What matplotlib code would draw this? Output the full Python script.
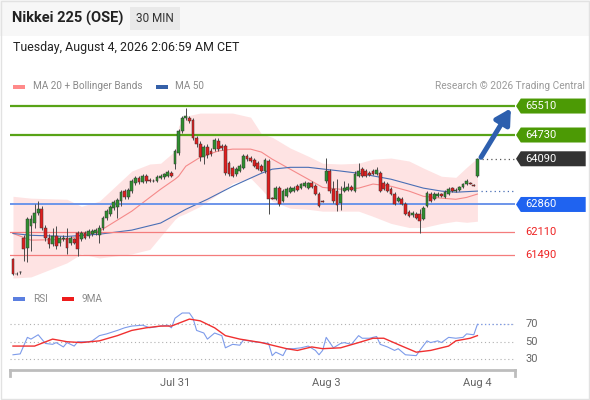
import numpy as np
import matplotlib.pyplot as plt
from matplotlib.patches import Polygon, Rectangle
from matplotlib.transforms import blended_transform_factory

plt.rcParams['font.family'] = ['Roboto', 'DejaVu Sans']

# --- 30 min candles (index 0 = first bar on the left) ---
opens = [61380, 60980, 61030, 61970, 61680, 62270, 62350, 62620, 62730, 62240,
         61970, 61790, 62000, 61810, 61920, 61950, 61810, 61920, 62080, 61920,
         62080, 62000, 62060, 62080, 62030, 62220, 62490, 62600, 62760, 62780,
         62950, 63220, 63050, 63220, 63430, 63570, 63460, 63620, 63510, 63490,
         63490, 63570, 63590, 63620, 63700, 63950, 64240, 64840, 65190, 65190,
         65130, 64650, 64490, 64130, 64400, 64300, 64350, 64570, 64430, 64430,
         63970, 63840, 63680, 63760, 63840, 64160, 64110, 64050, 63970, 63890,
         63760, 64030, 63030, 63000, 63300, 62950, 63080, 63190, 63220, 63350,
         63300, 63350, 63300, 63430, 63350, 63140, 62950, 63490, 63760, 63270,
         63220, 62890, 63220, 63240, 63320, 63220, 63620, 63810, 63760, 63700,
         63760, 63680, 63700, 63430, 63410, 63270, 63140, 62950, 63000, 62870,
         62650, 62570, 62600, 62600, 62460, 62810, 63140, 63000, 63080, 63140,
         63050, 63140, 63300, 63220, 63240, 63320, 63410, 63430, 63380, 63620]
highs = [61410, 61030, 61060, 62030, 62510, 62570, 62870, 62950, 62810, 62300,
         62060, 62220, 62270, 62000, 62030, 62220, 62000, 61970, 62140, 62140,
         62140, 62190, 62190, 62220, 62300, 62540, 62730, 62840, 62970, 63030,
         63240, 63270, 63300, 63540, 63620, 63620, 63680, 63680, 63570, 63540,
         63650, 63680, 63700, 63780, 63760, 64350, 64890, 65240, 65460, 65240,
         65190, 64700, 64570, 64460, 64490, 64380, 64650, 64650, 64490, 64490,
         64030, 63890, 63860, 63950, 64220, 64220, 64160, 64110, 64030, 63950,
         64110, 64080, 63050, 63350, 63350, 63270, 63320, 63350, 63350, 63410,
         63430, 63490, 63460, 63490, 63410, 63190, 62970, 64110, 63810, 63490,
         63540, 63350, 63490, 63430, 63380, 63760, 63970, 63860, 63810, 63760,
         63810, 63860, 63760, 63490, 63460, 63320, 63190, 63080, 63050, 62920,
         62700, 62680, 62650, 62730, 62810, 63220, 63190, 63190, 63190, 63160,
         63240, 63320, 63320, 63300, 63350, 63430, 63540, 63460, 63410, 64100]
lows = [60950, 60950, 61000, 61330, 61300, 61600, 62240, 62570, 62160, 61870,
        61700, 61730, 61650, 61730, 61870, 61540, 61760, 61790, 61460, 61870,
        61920, 61950, 62000, 62030, 61810, 62160, 62430, 62540, 62700, 62490,
        62810, 63000, 63000, 63160, 63380, 63410, 63430, 63430, 63460, 63460,
        63460, 63540, 63540, 63590, 63590, 63810, 64190, 64780, 65130, 65050,
        64590, 64400, 64030, 63950, 64110, 64160, 64300, 64300, 64320, 63650,
        63620, 63590, 63620, 63730, 63810, 64030, 64000, 63860, 63780, 63730,
        63700, 62600, 63000, 62970, 62810, 62920, 63050, 63160, 63190, 63220,
        63270, 63320, 63270, 63300, 63110, 62780, 62920, 63430, 63160, 62890,
        62680, 62700, 63190, 63220, 63220, 63190, 63590, 63590, 63590, 63620,
        63650, 63650, 63190, 63240, 63190, 63110, 62840, 62920, 62840, 62570,
        62510, 62510, 62460, 62080, 62430, 62780, 62920, 62970, 63050, 63050,
        63030, 63110, 63190, 63190, 63220, 63300, 63380, 63410, 63350, 63590]
closes = [60980, 61000, 61040, 61650, 62460, 62460, 62620, 62730, 62220, 61950,
          61790, 62000, 61730, 61950, 61970, 61700, 61950, 61810, 61650, 62080,
          61970, 62140, 62140, 62160, 62240, 62490, 62680, 62780, 62920, 62970,
          63190, 63050, 63240, 63490, 63570, 63460, 63620, 63490, 63500, 63480,
          63590, 63620, 63680, 63730, 63620, 64300, 64840, 65190, 65240, 65110,
          64650, 64490, 64130, 64400, 64190, 64220, 64590, 64350, 64380, 63700,
          63680, 63620, 63810, 63890, 64160, 64080, 64030, 63890, 63810, 63760,
          64050, 63000, 63020, 63300, 62870, 63220, 63270, 63300, 63300, 63240,
          63410, 63430, 63430, 63320, 63140, 62810, 62940, 63760, 63220, 62950,
          62840, 63140, 63300, 63320, 63240, 63680, 63760, 63620, 63620, 63650,
          63680, 63780, 63220, 63270, 63220, 63140, 62870, 63030, 62870, 62600,
          62540, 62620, 62490, 62410, 62760, 63160, 62950, 63140, 63140, 63080,
          63190, 63270, 63220, 63240, 63320, 63410, 63490, 63420, 63370, 64090]

# --- indicators (bar index, value) ---
band_idx = [0, 5, 15, 19, 24, 33, 38, 41, 45, 46, 48, 52, 57, 61, 66, 69, 72, 77,
            82, 86, 91, 96, 100, 105, 110, 114, 119, 123, 126, 129]
bb_upper = [63080, 63030, 63000, 62810, 62950, 63760, 63950, 63970, 64300, 64970,
            65240, 65320, 65320, 65320, 65210, 64760, 64670, 64380, 64160, 63970,
            63950, 63970, 64080, 64110, 64030, 63840, 63620, 63590, 63860, 64110]
bb_lower = [60880, 60910, 61290, 61530, 61420, 61530, 61650, 62000, 62460, 62540,
            62620, 62810, 63140, 63430, 63570, 63270, 62950, 62760, 62730, 62680,
            62680, 62680, 62540, 62350, 62240, 62240, 62350, 62410, 62380, 62410]
ma20 = [62080, 61900, 61920, 62030, 62140, 62680, 63050, 63270, 63540, 63620,
        63890, 64130, 64300, 64350, 64350, 64270, 64080, 63810, 63540, 63320,
        63270, 63300, 63410, 63350, 63220, 63080, 63030, 63000, 63050, 63140]
ma50_idx = [0, 5, 15, 24, 33, 41, 48, 54, 61, 66, 69, 72, 77, 82, 91, 96, 105,
            114, 119, 123, 129]
ma50 = [62080, 62030, 62000, 62060, 62170, 62360, 62730, 63000, 63350, 63570,
        63700, 63810, 63860, 63860, 63760, 63700, 63540, 63300, 63220, 63190, 63220]

rsi_idx = [0, 2, 4, 5, 7, 8, 9, 11, 12, 14, 15, 17, 18, 21, 22, 24, 26, 29, 31, 33,
           36, 38, 41, 43, 44, 45, 47, 49, 50, 51, 53, 54, 56, 58, 59, 61, 63, 64,
           67, 69, 71, 72, 73, 75, 76, 78, 80, 82, 84, 85, 86, 87, 89, 91, 92, 94,
           96, 97, 99, 101, 102, 104, 106, 107, 109, 112, 113, 115, 116, 118, 119,
           121, 123, 125, 126, 128, 129]
rsi = [35, 36, 55, 53, 58, 53, 48, 47, 49, 44, 49, 45, 50, 50, 51, 57, 59, 63, 66, 68,
       69, 66, 68, 69, 66, 77, 83, 83, 77, 63, 60, 53, 60, 57, 43, 47, 46, 52,
       50, 49, 48, 34, 38, 34, 42, 42, 43, 45, 40, 35, 40, 55, 43, 48, 49, 47,
       57, 54, 54, 56, 47, 44, 40, 42, 35, 34, 40, 51, 49, 51, 49,
       55, 54, 55, 59, 58, 70]
ma9_idx = [0, 6, 11, 15, 19, 24, 29, 33, 37, 41, 44, 49, 52, 56, 59, 63, 69, 72, 76,
           79, 83, 86, 91, 96, 100, 103, 108, 112, 116, 121, 123, 127, 129]
rsi_ma9 = [45, 45, 53, 50, 49, 51, 57, 63, 66, 68, 68, 76, 74, 66, 57, 53, 49, 46, 42,
           40, 44, 42, 43, 49, 54, 54, 45, 38, 40, 45, 51, 54, 57]

day_ticks = [45, 87, 129]
day_labels = ['Jul 31', 'Aug 3', 'Aug 4']
rsi_levels = [70, 50, 30]

resistances = [65510, 64730]
supports = [62860, 62110, 61490]
last_price = closes[-1]

W, H = 590, 400
fig = plt.figure(figsize=(W / 100, H / 100), dpi=100)
fig.patch.set_facecolor('white')

def fx(px):
    return px / W

def fy(py):
    return 1 - py / H

# header band and frame
fig.patches.append(Rectangle((0, fy(36)), 1, 36 / H, transform=fig.transFigure,
                             facecolor='#f7f7f7', edgecolor='none', zorder=0))
fig.patches.append(Rectangle((0.001, 0.003), 0.997, 0.995, transform=fig.transFigure,
                             facecolor='none', edgecolor='#e2e2e2', lw=1, zorder=0))
fig.patches.append(Rectangle((fx(130), fy(30)), 50 / W, 23 / H, transform=fig.transFigure,
                             facecolor='#e9e9e9', edgecolor='none', zorder=1))
fig.text(fx(12), fy(18), 'Nikkei 225 (OSE)', fontsize=10.5, fontweight='bold',
         color='#222222', va='center')
fig.text(fx(155), fy(18.5), '30 MIN', fontsize=8.5, color='#333333', ha='center', va='center')
fig.text(fx(13), fy(47), 'Tuesday, August 4, 2026 2:06:59 AM CET', fontsize=8.9,
         color='#222222', va='center')

# legends
fig.patches.append(Rectangle((fx(13), fy(88.5)), 12 / W, 4 / H, transform=fig.transFigure,
                             facecolor='#ff8a8a', edgecolor='none'))
fig.text(fx(33), fy(86), 'MA 20 + Bollinger Bands', fontsize=7.2, color='#8a8a8a', va='center')
fig.patches.append(Rectangle((fx(156), fy(88.5)), 12 / W, 4 / H, transform=fig.transFigure,
                             facecolor='#3560a8', edgecolor='none'))
fig.text(fx(175), fy(86), 'MA 50', fontsize=7.2, color='#8a8a8a', va='center')
fig.text(fx(585), fy(86), 'Research \u00a9 2026 Trading Central', fontsize=7.3,
         color='#9a9a9a', ha='right', va='center')

fig.patches.append(Rectangle((fx(13), fy(301)), 12 / W, 4 / H, transform=fig.transFigure,
                             facecolor='#5b7fe0', edgecolor='none'))
fig.text(fx(33), fy(299), 'RSI', fontsize=7.2, color='#8a8a8a', va='center')
fig.patches.append(Rectangle((fx(62), fy(301)), 12 / W, 4 / H, transform=fig.transFigure,
                             facecolor='#ee1c1c', edgecolor='none'))
fig.text(fx(82), fy(299), '9MA', fontsize=7.2, color='#8a8a8a', va='center')

# ---------------- price panel ----------------
ax = fig.add_axes([fx(10), fy(281), 505 / W, 185 / H])
ax.set_xlim(-0.83, 139.44)
ax.set_ylim(60800, 65780)
ax.axis('off')

ax.fill_between(band_idx, bb_lower, bb_upper, color='#fee3e3', lw=0, zorder=1)
ax.plot(band_idx, ma20, color='#f58a8a', lw=0.8, zorder=2)
ax.plot(ma50_idx, ma50, color='#4a6fb5', lw=0.8, zorder=2)
ax.plot([ma50_idx[-1] + 1, 139.4], [ma50[-1], ma50[-1]], color='#4a6fb5', lw=0.9,
        ls=(0, (1, 2.5)), zorder=2)

for lv in resistances:
    ax.axhline(lv, color='#58a317', lw=1.6, zorder=3)
ax.axhline(supports[0], color='#6d95ea', lw=1.4, zorder=3)
for lv in supports[1:]:
    ax.axhline(lv, color='#f47c7c', lw=0.9, zorder=3)

idx = np.arange(len(closes))
o = np.array(opens)
c = np.array(closes)
up = c >= o
ax.vlines(idx, lows, highs, color='#4a4a4a', lw=0.7, zorder=4)
body = np.abs(c - o)
ax.bar(idx, np.where(body < 20, 20, body), bottom=np.minimum(o, c), width=0.78,
       color=np.where(up, '#2f8f2f', '#e01e1e'), edgecolor='#333333', lw=0.35, zorder=5)

ax.plot([idx[-1] + 1.2, 139.4], [last_price, last_price], color='#555555', lw=0.9,
        ls=(0, (1, 2.5)), zorder=3)
ax.annotate('', xy=(138.3, resistances[0] - 60), xytext=(130.0, last_price + 40),
            arrowprops=dict(arrowstyle='-|>,head_length=0.9,head_width=0.5',
                            color='#2d5fae', lw=3.6, shrinkA=0, shrinkB=0),
            zorder=6)

# right-hand price tags
tr = blended_transform_factory(ax.transAxes, ax.transData)
hh = 7.5 * (65780 - 60800) / 185
def tag(price, color):
    pts = [(1.002, price), (1.0115, price + hh), (1.140, price + hh),
           (1.140, price - hh), (1.0115, price - hh)]
    ax.add_patch(Polygon(pts, closed=True, transform=tr, facecolor=color,
                         edgecolor='none', clip_on=False, zorder=6))
    ax.text(1.0205, price, f'{price}', transform=tr, color='white', fontsize=8,
            va='center', ha='left', clip_on=False, zorder=7)

for lv in resistances:
    tag(lv, '#4c9a05')
tag(last_price, '#333333')
tag(supports[0], '#1f63f0')
for lv in supports[1:]:
    ax.text(1.0205, lv, f'{lv}', transform=tr, color='#ee2222', fontsize=8,
            va='center', ha='left', clip_on=False)

# ---------------- RSI panel ----------------
ar = fig.add_axes([fx(10), fy(370), 505 / W, 65 / H])
ar.set_xlim(-0.83, 139.44)
ar.set_ylim(17.5, 92.2)
for s in ['top', 'left', 'right']:
    ar.spines[s].set_visible(False)
ar.spines['bottom'].set_color('#bdbdbd')
ar.spines['bottom'].set_linewidth(2)
ar.set_yticks([])
for lv in rsi_levels:
    ar.axhline(lv, color='#b0b0b0', lw=0.8, ls=(0, (1, 2.5)), zorder=1)
    ar.text(1.02, lv, str(lv), transform=blended_transform_factory(ar.transAxes, ar.transData),
            fontsize=8, color='#666666', va='center', ha='left')
ar.plot(ma9_idx, rsi_ma9, color='#f03030', lw=1.0, zorder=3)
ar.plot(rsi_idx, rsi, color='#7d9bea', lw=0.8, zorder=2)
ar.plot([rsi_idx[-1], 139.4], [rsi[-1], rsi[-1]], color='#7d9bea', lw=0.9,
        ls=(0, (1, 2)), zorder=2)
for xe in [0, 1]:
    ar.plot([xe, xe], [0, -0.09], transform=ar.transAxes, color='#bdbdbd', lw=2,
            clip_on=False)
ar.set_xticks(day_ticks)
ar.set_xticklabels(day_labels, fontsize=8, color='#666666')
ar.tick_params(axis='x', length=0, pad=6)

fig.savefig('out.png', dpi=100, facecolor='white')
